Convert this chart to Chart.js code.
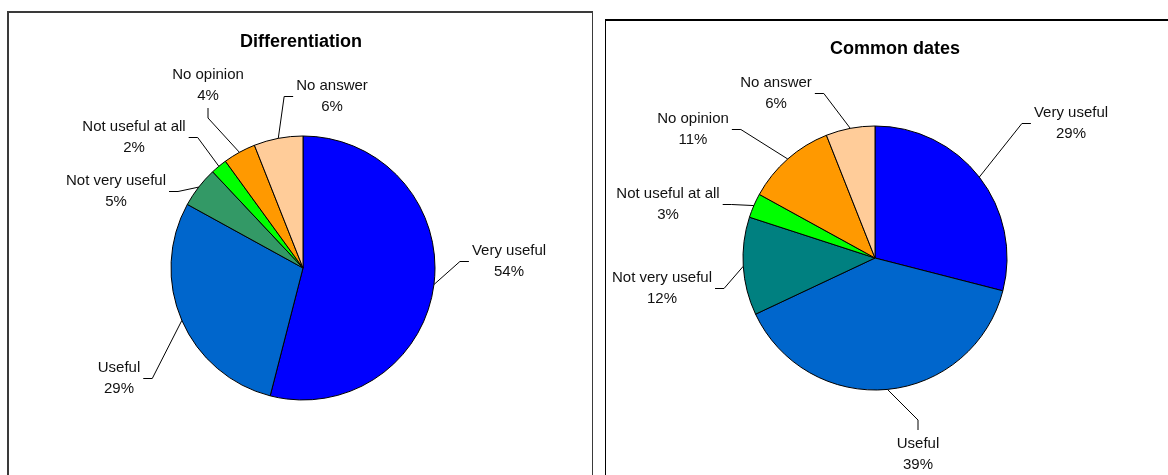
<!DOCTYPE html>
<html>
<head>
<meta charset="utf-8">
<script src="https://cdn.jsdelivr.net/npm/chart.js@4/dist/chart.umd.min.js"></script>
<style>
  html, body { margin: 0; padding: 0; background: #fff; }
  body { width: 1168px; height: 475px; position: relative; overflow: hidden; }
  .box { position: absolute; box-sizing: border-box; background: #fff; }
  #box1 { left: 7px; top: 11px; width: 586px; height: 500px; border: 2px solid #3a3a3a; border-right-width: 1px; }
  #box2 { left: 605px; top: 19px; width: 600px; height: 500px; border: 1px solid #000; border-top-width: 2px; }
  canvas { position: absolute; left: 0; top: 0; }
</style>
</head>
<body>
<div class="box" id="box1"></div>
<div class="box" id="box2"></div>
<canvas id="c1" width="1168" height="475"></canvas>
<canvas id="c2" width="1168" height="475"></canvas>
<script>
const categories = ['Very useful', 'Useful', 'Not very useful', 'Not useful at all', 'No opinion', 'No answer']

const title1 = 'Differentiation'
const values1 = [54, 29, 5, 2, 4, 6]
const colors1 = ['#0000FF', '#0066CC', '#339966', '#00FF00', '#FF9900', '#FFCC99']

const title2 = 'Common dates'
const values2 = [29, 39, 12, 3, 11, 6]
const colors2 = ['#0000FF', '#0066CC', '#008080', '#00FF00', '#FF9900', '#FFCC99']

// label placement, relative to pie centre: [dx of label centre, dy of first baseline, side the leader attaches to]
const labelPos1 = [[206, -13, 'l'], [-184, 104, 'r'], [-187, -83, 'r'], [-169, -137, 'r'], [-95, -189, 'b'], [29, -178, 'l']]
const labelPos2 = [[196, -141, 'l'], [43, 190, 't'], [-213, 24, 'r'], [-207, -60, 'r'], [-182, -135, 'r'], [-99, -171, 'r']]

const FONT = '"Liberation Sans", Arial, sans-serif'

const pieLabels = {
    id: 'pieLabels',
    afterDraw(chart, args, opts) {
        const ctx = chart.ctx
        const meta = chart.getDatasetMeta(0)
        const vals = chart.data.datasets[0].data
        ctx.save()
        // title
        ctx.fillStyle = '#000'
        ctx.font = 'bold 18px ' + FONT
        ctx.textAlign = 'center'
        ctx.textBaseline = 'alphabetic'
        ctx.fillText(opts.title, opts.titleX, opts.titleY)

        ctx.font = '15px ' + FONT
        ctx.strokeStyle = '#000'
        ctx.lineWidth = 1
        meta.data.forEach((arc, i) => {
            const p = arc.getProps(['x', 'y', 'startAngle', 'endAngle', 'outerRadius'], true)
            const mid = (p.startAngle + p.endAngle) / 2
            const sx = p.x + Math.cos(mid) * p.outerRadius
            const sy = p.y + Math.sin(mid) * p.outerRadius
            const [dx, dy, side] = opts.pos[i]
            const cx = p.x + dx
            const b1 = p.y + dy
            const line1 = chart.data.labels[i]
            const line2 = vals[i] + '%'
            const w = Math.max(ctx.measureText(line1).width, ctx.measureText(line2).width)
            const midY = b1 + 6.5
            let ex, ey, kx, ky
            if (side === 'l') { ex = cx - w / 2 - 3; ey = midY; kx = ex - 9; ky = ey }
            else if (side === 'r') { ex = cx + w / 2 + 3; ey = midY; kx = ex + 9; ky = ey }
            else if (side === 'b') { ex = cx; ey = b1 + 29; kx = ex; ky = ey + 10 }
            else { ex = cx; ey = b1 - 18; kx = ex; ky = ey - 10 }
            ctx.beginPath()
            ctx.moveTo(sx, sy)
            ctx.lineTo(kx, ky)
            ctx.lineTo(ex, ey)
            ctx.stroke()
            ctx.fillStyle = '#111'
            ctx.fillText(line1, cx, b1)
            ctx.fillText(line2, cx, b1 + 21)
        })
        ctx.restore()
    }
}

function makePie(id, values, colors, pad, title, titleX, titleY, pos) {
    return new Chart(document.getElementById(id), {
        type: 'pie',
        data: {
            labels: categories,
            datasets: [{
                data: values,
                backgroundColor: colors,
                borderColor: '#000',
                borderWidth: 1,
            }]
        },
        options: {
            responsive: false,
            animation: false,
            radius: 132,
            layout: { padding: pad },
            plugins: {
                legend: { display: false },
                tooltip: { enabled: false },
                pieLabels: { title: title, titleX: titleX, titleY: titleY, pos: pos },
            }
        },
        plugins: [pieLabels]
    })
}

makePie('c1', values1, colors1, { left: 153, right: 715, top: 118, bottom: 57 }, title1, 301, 47, labelPos1)
makePie('c2', values2, colors2, { left: 725, right: 143, top: 108, bottom: 67 }, title2, 895, 54, labelPos2)
</script>
</body>
</html>
